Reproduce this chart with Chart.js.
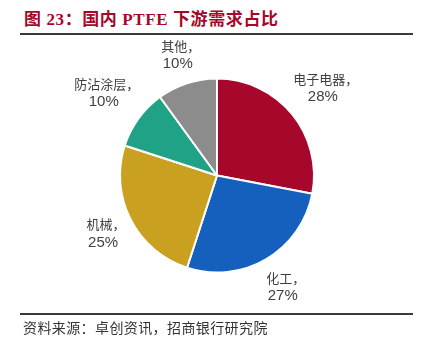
<!DOCTYPE html>
<html>
<head>
<meta charset="utf-8">
<script src="https://cdn.jsdelivr.net/npm/chart.js@4"></script>
<style>
  html, body { margin: 0; padding: 0; background: #fff; }
  #wrap { position: relative; width: 426px; height: 348px; overflow: hidden; }
  #title {
    position: absolute; left: 24px; top: 5px;
    font-family: "Liberation Serif", "Noto Sans CJK SC", serif;
    font-weight: bold; font-size: 17px; color: #A6072A; white-space: nowrap;
    letter-spacing: 0.6px;
  }
  .rule { position: absolute; left: 20px; width: 393px; height: 2px; background: #3a3a3a; }
  #source {
    position: absolute; left: 23px; top: 317px;
    font-family: "Noto Sans CJK SC", sans-serif; font-size: 14px; color: #333; white-space: nowrap;
    letter-spacing: 0.4px;
  }
  canvas { position: absolute; left: 0; top: 0; }
</style>
</head>
<body>
<div id="wrap">
  <div id="title">图 23：国内 PTFE 下游需求占比</div>
  <div class="rule" style="top:33px"></div>
  <canvas id="pie" width="426" height="348"></canvas>
  <div class="rule" style="top:313px"></div>
  <div id="source">资料来源：卓创资讯，招商银行研究院</div>
</div>
<script>
// data
const categories = ['电子电器', '化工', '机械', '防沾涂层', '其他'];
const shares = [28, 27, 25, 10, 10];
const sliceColors = ['#A6072A', '#1660BD', '#C9A01F', '#1FA286', '#8C8C8C'];

// labels outside each slice: "name，" then "xx%"
const outsideLabels = {
    id: 'outsideLabels',
    afterDraw(chart) {
        const ctx = chart.ctx;
        const meta = chart.getDatasetMeta(0);
        const lineH = 18;
        ctx.save();
        meta.data.forEach((arc, i) => {
            const mid = (arc.startAngle + arc.endAngle) / 2;
            const ux = Math.cos(mid), uy = Math.sin(mid);
            const line1 = categories[i] + '，';
            const line2 = shares[i] + '%';
            ctx.font = '13px "Noto Sans CJK SC"';
            const w1 = ctx.measureText(line1).width;
            ctx.font = '15px "Liberation Sans"';
            const w2 = ctx.measureText(line2).width;
            const hw = Math.max(w1, w2) / 2, hh = lineH + 2;
            const edge = Math.min(hw / Math.max(Math.abs(ux), 1e-6), hh / Math.max(Math.abs(uy), 1e-6));
            const d = arc.outerRadius + 9 + edge;
            const cx = arc.x + ux * d, cy = arc.y + uy * d;
            ctx.fillStyle = '#404040';
            ctx.textAlign = 'center';
            ctx.textBaseline = 'middle';
            ctx.font = '13px "Noto Sans CJK SC"';
            ctx.fillText(line1, cx + 3, cy - lineH / 2);
            ctx.font = '15px "Liberation Sans"';
            ctx.fillText(line2, cx, cy + lineH / 2);
        });
        ctx.restore();
    }
};

new Chart(document.getElementById('pie'), {
    type: 'pie',
    data: {
        labels: categories,
        datasets: [{
            data: shares,
            backgroundColor: sliceColors,
            borderColor: '#fff',
            borderWidth: 2
        }]
    },
    options: {
        responsive: false,
        animation: false,
        layout: { padding: { left: 119, right: 111, top: 77, bottom: 74 } },
        plugins: { legend: { display: false }, tooltip: { enabled: false } }
    },
    plugins: [outsideLabels]
});
</script>
</body>
</html>
